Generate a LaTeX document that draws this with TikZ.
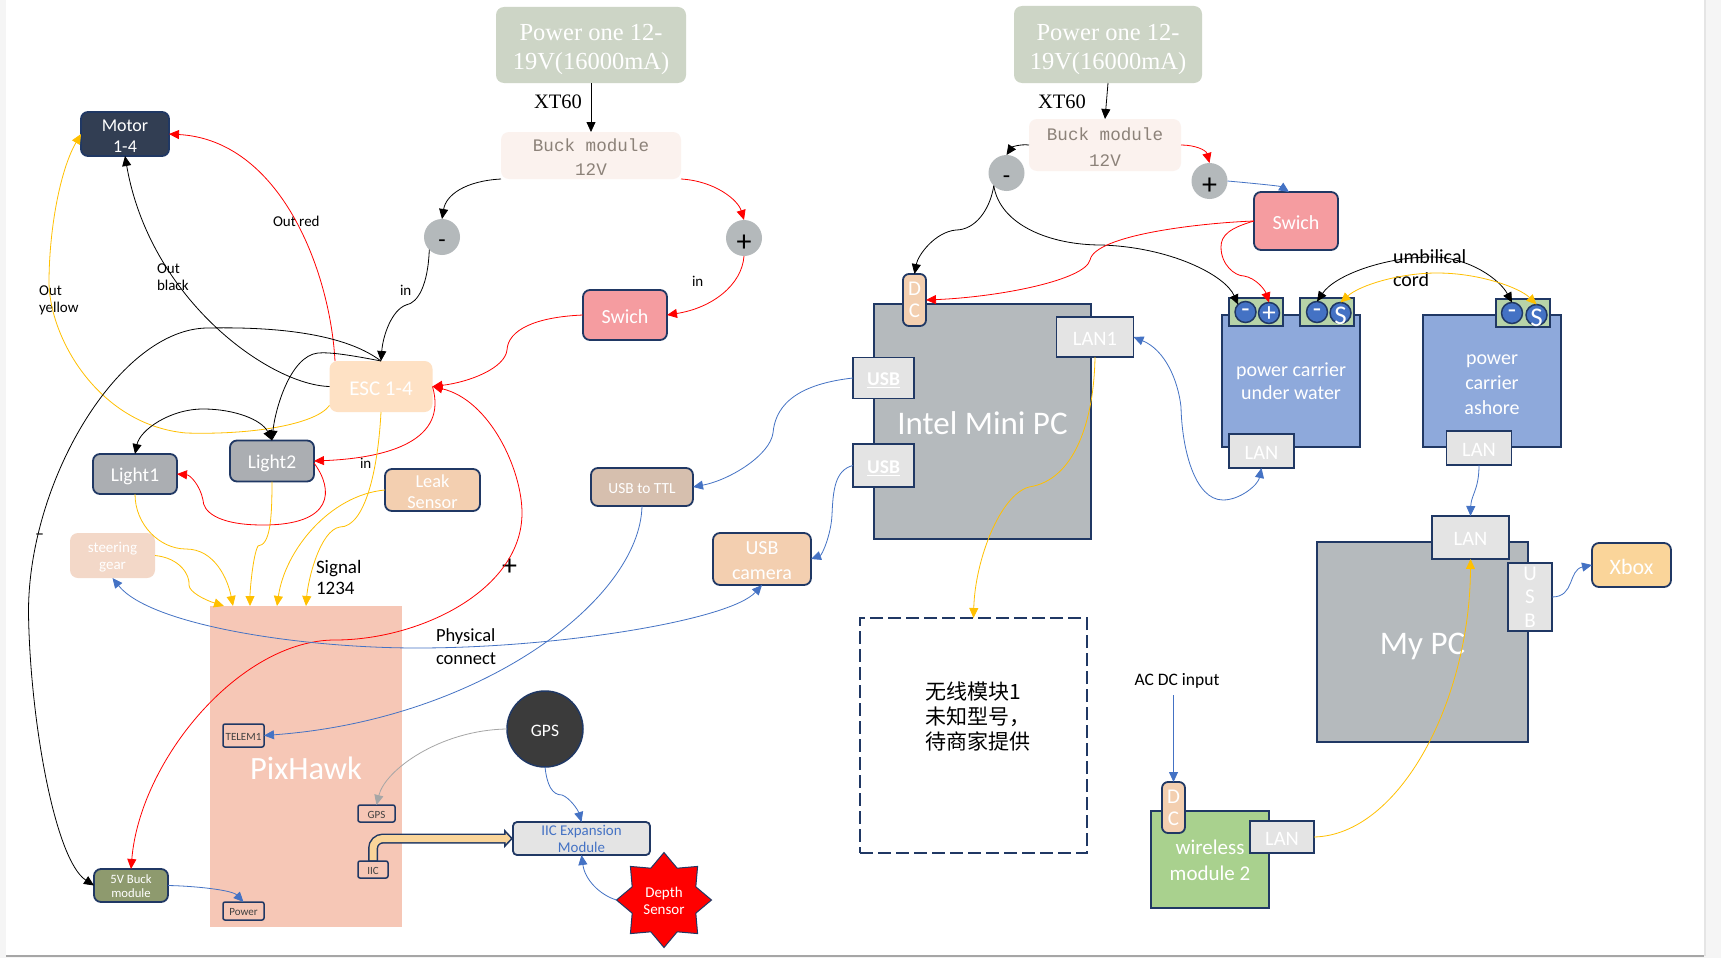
\documentclass[tikz,border=0pt]{standalone}
\usepackage{fontspec}
\usepackage{xcolor}
\usetikzlibrary{arrows.meta,shapes.geometric}
\setmainfont{Carlito}
\newfontfamily\serifface{Liberation Serif}
\newfontfamily\monoface{Liberation Mono}
\newfontfamily\cjk{Noto Sans CJK SC}

\definecolor{navy}{HTML}{203864}
\definecolor{powergreen}{HTML}{CDD5C6}
\definecolor{buckpink}{HTML}{FBF2EE}
\definecolor{buckgray}{HTML}{8C8279}
\definecolor{knobgray}{HTML}{B4B9BB}
\definecolor{pcgray}{HTML}{B5BABD}
\definecolor{swichred}{HTML}{F59CA0}
\definecolor{motornavy}{HTML}{323E53}
\definecolor{escpeach}{HTML}{FEE1C4}
\definecolor{lightgray}{HTML}{ABAEB2}
\definecolor{sandpeach}{HTML}{F3CFB0}
\definecolor{gearpeach}{HTML}{F3D8C8}
\definecolor{ttlbrown}{HTML}{D6BFAE}
\definecolor{pixpink}{HTML}{F6C7B6}
\definecolor{lanwhite}{HTML}{E4E4E4}
\definecolor{buckolive}{HTML}{8E9A6E}
\definecolor{carrierblue}{HTML}{8EA9DB}
\definecolor{clampgreen}{HTML}{B7D3A8}
\definecolor{linkblue}{HTML}{4472C4}
\definecolor{linkyellow}{HTML}{FFC000}
\definecolor{xboxorange}{HTML}{FAD59A}
\definecolor{wirelessgreen}{HTML}{A9D18E}
\definecolor{gpsblack}{HTML}{3B3B3B}
\definecolor{pagegray}{HTML}{F5F5F5}

\newcommand{\fs}[2]{\fontsize{#1}{#2}\selectfont}
\newcommand{\lift}[1]{\rule{0pt}{#1em}}
\newcommand{\pinmark}[2]{\makebox[0pt]{\smash{\raisebox{#1em}{#2}}}}

\tikzset{
  wh/.style 2 args={minimum width=#1pt,minimum height=#2pt},
  base/.style={inner sep=0pt,outer sep=0pt,align=center,text=white},
  plain/.style={base,execute at begin node={\lift{.9}}},
  flat/.style={plain,rounded corners=8pt},
  rbox/.style={plain,rounded corners=7pt,draw=navy,line width=1.8pt},
  sbase/.style={base,draw=navy,line width=1.8pt},
  sbox/.style={sbase,execute at begin node={\lift{.9}}},
  lanbox/.style={sbase,fill=lanwhite,font=\fs{20.5}{24},execute at begin node={\lift{.8}}},
  port/.style={plain,rounded corners=2pt,draw=navy,line width=1.5pt,fill=pixpink,text=black!75,font=\fs{11}{13}},
  knob/.style={plain,circle,minimum size=36pt,fill=knobgray,text=black,font=\fs{30}{30}},
  clamp/.style={sbase,fill=clampgreen},
  pin/.style={base,circle,minimum size=21pt,draw=navy,line width=1.5pt,fill=linkblue,font=\fs{27}{27}},
  note/.style={inner sep=0pt,outer sep=0pt,align=left,anchor=west,font=\fs{15}{17}},
  tip/.style={-{Triangle[length=10pt,width=9pt]}},
  twotip/.style={{Triangle[length=10pt,width=9pt]}-{Triangle[length=10pt,width=9pt]}},
  link/.style={line width=0.8pt},
  blackline/.style={link,black},
  redline/.style={link,red},
  yellowline/.style={link,linkyellow},
  blueline/.style={link,linkblue},
  grayline/.style={link,black!35}
}

\begin{document}
\begin{tikzpicture}[x=1pt,y=-1pt]
  \useasboundingbox (0,0) rectangle (1721,958);
  % page
  \fill[pagegray] (0,0) rectangle (1721,958);
  \fill[black!35] (6,954) rectangle (1704,957);
  \fill[black!10] (1704,0) rectangle (1706,956);
  \fill[white] (6,0) rectangle (1704,955);

  % left power branch
  \node[flat,wh={190}{76},fill=powergreen,font=\serifface\fs{24.5}{29}] (powerA) at (591,45) {\lift{1.05}Power one 12-\\19V(16000mA)};
  \node[inner sep=0pt,font=\serifface\fs{20.5}{24}] (xtA) at (558,102) {XT60};
  \node[flat,wh={180}{47},fill=buckpink,text=buckgray,font=\monoface\fs{17.6}{24}] (buckA) at (591,155.5) {\lift{.95}Buck module\\12V};
  \node[knob,font=\fs{24}{24}] (minusA) at (442,237) {-};
  \node[knob] (plusA) at (744,238) {+};
  \node[rbox,wh={84}{50},fill=swichred,font=\fs{20}{24}] (swichA) at (625,315) {Swich};
  \node[flat,wh={103}{51},fill=escpeach,font=\fs{21}{25}] (esc) at (381,386.5) {ESC 1-4};
  \node[rbox,wh={88}{44},fill=motornavy,font=\fs{18}{21}] (motor) at (125,134) {\lift{.9}Motor\\1-4};
  \node[rbox,wh={84}{41},fill=lightgray,font=\fs{19.5}{23}] (lightB) at (272,461) {Light2};
  \node[rbox,wh={84}{40},fill=lightgray,font=\fs{19.5}{23}] (lightA) at (135,474) {Light1};
  \node[rbox,wh={95}{42},fill=sandpeach,font=\fs{18.3}{21}] (leak) at (432.5,490) {\lift{.9}Leak\\Sensor};
  \node[flat,wh={85}{45},fill=gearpeach,font=\fs{15}{17}] (gear) at (112.5,555.5) {\lift{.97}steering\\gear};
  \node[rbox,wh={102}{38},fill=ttlbrown,font=\fs{15.4}{18}] (ttl) at (642,487) {USB to TTL};
  \node[rbox,wh={98}{52},fill=sandpeach,font=\fs{20}{25}] (camera) at (762,559) {\lift{.85}USB\\camera};

  % pixhawk
  \node[base,wh={192}{321},fill=pixpink,font=\fs{32.5}{36},execute at begin node={\lift{.78}}] (pix) at (306,766.5) {PixHawk};
  \node[port,wh={41}{23}] (telem) at (243.5,735.5) {TELEM1};
  \node[port,wh={37}{17}] (gpsport) at (376.5,813.5) {GPS};
  \node[port,wh={30}{17}] (iic) at (373,869.5) {IIC};
  \node[port,wh={41}{18}] (powerport) at (243.5,911) {Power};
  \node[plain,circle,minimum size=76pt,draw=navy,line width=1.5pt,fill=gpsblack,font=\fs{17.5}{20}] (gps) at (545,729) {GPS};
  \node[plain,rounded corners=4pt,draw=navy,line width=1.8pt,wh={137}{33},fill=lanwhite,text=linkblue,font=\fs{14.9}{17}] (expansion) at (581.5,838.5) {IIC Expansion\\Module};
  \node[plain,star,star points=8,star point ratio=1.38,minimum size=95pt,draw=navy,line width=1pt,fill=red,font=\fs{15}{17}] (depth) at (664,900) {\lift{.83}Depth\\Sensor};
  \node[rbox,wh={74}{33},fill=buckolive,font=\fs{12.7}{14}] (buckfive) at (131,885.5) {\lift{.86}5V Buck\\module};

  % left labels
  \node[note] (inA) at (400,290) {in};
  \node[note] (inB) at (692,281) {in};
  \node[note] (inC) at (360,463) {in};
  \node[note] (outblack) at (157,277.5) {Out\\black};
  \node[note] (outred) at (273,221) {Out red};
  \node[note] (outyellow) at (39,300.5) {Out\\yellow};
  \node[note,font=\fs{19}{21}] (signal) at (316,577.5) {Signal\\1234};
  \node[note,font=\fs{18.5}{23}] (physical) at (436,647) {Physical\\connect};
  \node[note,font=\fs{18}{18}] (minusmark) at (35,537) {–};
  \node[note,font=\fs{30}{30}] (plusmark) at (502,567) {+};

  % right power branch
  \node[flat,wh={188}{77},fill=powergreen,font=\serifface\fs{24.5}{29}] (powerB) at (1108,44.5) {\lift{1.05}Power one 12-\\19V(16000mA)};
  \node[inner sep=0pt,font=\serifface\fs{20.5}{24}] (xtB) at (1062,102) {XT60};
  \node[flat,wh={152}{52},fill=buckpink,text=buckgray,font=\monoface\fs{17.6}{26}] (buckB) at (1105,145) {\lift{.95}Buck module\\12V};
  \node[knob,font=\fs{24}{24}] (minusB) at (1006.5,173) {-};
  \node[knob] (plusB) at (1209.5,181) {+};
  \node[rbox,wh={84}{58},fill=swichred,font=\fs{20}{24}] (swichB) at (1296,221) {Swich};

  % mini pc
  \node[sbase,wh={217}{235},fill=pcgray,font=\fs{33}{36},execute at begin node={\lift{.78}}] (intel) at (982.5,421.5) {Intel Mini PC};
  \node[plain,rounded corners=6pt,draw=navy,line width=1.8pt,wh={23}{52},fill=sandpeach,font=\fs{21}{22}] (dcA) at (914.5,300) {D\\C};
  \node[lanbox,wh={77}{40}] (lanone) at (1095,337) {LAN1};
  \node[sbox,wh={61}{41},fill=lanwhite,font=\bfseries\fs{19.5}{20}] (usbA) at (883.5,378) {\underline{USB}};
  \node[sbox,wh={61}{43},fill=lanwhite,font=\bfseries\fs{19.5}{20}] (usbB) at (883.5,465.5) {\underline{USB}};
  \node[sbase,dashed,dash pattern=on 13pt off 5pt,wh={227}{235},text=black] (wirelessA) at (973.5,735.5) {};
  \node[inner sep=0pt,align=left,anchor=north west,font=\cjk\fs{21}{25}] (wirelesstext) at (925,682) {无线模块1\\未知型号，\\待商家提供};

  % carriers
  \node[sbox,wh={138}{132},fill=carrierblue,font=\fs{20}{23}] (carrierA) at (1291,381) {power carrier\\under water};
  \node[sbox,wh={138}{132},fill=carrierblue,font=\fs{20}{25}] (carrierB) at (1492,381) {\lift{.88}power\\carrier\\ashore};
  \node[lanbox,wh={65}{34}] (lanA) at (1261.5,451) {LAN};
  \node[lanbox,wh={65}{34}] (lanB) at (1479,448) {LAN};
  \node[clamp,wh={54}{28}] (clampA) at (1256,312) {};
  \node[clamp,wh={54}{28}] (clampB) at (1327,312) {};
  \node[clamp,wh={54}{28}] (clampC) at (1523,313) {};
  \node[pin] (negA) at (1245.5,312) {\pinmark{-.2}{-}};
  \node[pin] (posA) at (1269,313) {\pinmark{-.3}{+}};
  \node[pin] (negB) at (1317,312) {\pinmark{-.2}{-}};
  \node[pin] (sigB) at (1340.5,313) {\pinmark{-.42}{S}};
  \node[pin] (negC) at (1512,313) {\pinmark{-.2}{-}};
  \node[pin] (sigC) at (1536.5,315) {\pinmark{-.42}{S}};
  \node[note,font=\fs{20}{23}] (umbilical) at (1393,268.5) {umbilical\\cord};

  % my pc
  \node[sbox,wh={211}{200},fill=pcgray,font=\fs{33}{36}] (mypc) at (1422.5,642) {My PC};
  \node[lanbox,wh={77}{43}] (lanC) at (1470.5,537.5) {LAN};
  \node[sbox,wh={44}{68},fill=lanwhite,font=\fs{21}{23.5}] (usbC) at (1530,597) {U\\S\\B};
  \node[rbox,wh={79}{44},fill=xboxorange,font=\fs{22}{26}] (xbox) at (1631.5,565) {Xbox};

  % wireless module 2
  \node[sbox,wh={118}{97},fill=wirelessgreen,font=\fs{21}{26}] (wirelessB) at (1210,859.5) {\lift{.8}wireless\\module 2};
  \node[plain,rounded corners=6pt,draw=navy,line width=1.8pt,wh={23}{51},fill=sandpeach,font=\fs{21}{22}] (dcB) at (1173.5,807.5) {D\\C};
  \node[lanbox,wh={64}{32}] (lanD) at (1282,837) {LAN};
  \node[inner sep=0pt,font=\fs{17.5}{20}] (acdc) at (1177,681) {AC DC input};
  \coordinate (acin) at (1173.5,695);

  % left connectors
  \draw[blackline,tip] (powerA.south) -- (buckA.north);
  \draw[blackline,tip] (buckA.south west) .. controls (465,181) and (446,195) .. (minusA.north);
  \draw[redline,tip] (buckA.south east) .. controls (715,181) and (738,200) .. (plusA.north);
  \draw[blackline,tip] (minusA.south west) .. controls (428,285) and (418,303) .. (406,305) .. controls (392,310) and (383,335) .. (esc.north);
  \draw[redline,tip] (plusA.south) .. controls (742,285) and (712,308) .. (swichA.east);
  \draw[redline,tip] (swichA.west) .. controls (535,317) and (508,330) .. (507,350) .. controls (505,368) and (470,382) .. (esc.east);
  \draw[blackline,tip] (esc.west) .. controls (270,385) and (150,300) .. (motor.south);
  \draw[redline,tip] ([xshift=-46pt]esc.north) .. controls (330,270) and (280,140) .. (motor.east);
  \draw[yellowline,tip] ([yshift=-19pt]esc.west) .. controls (315,425) and (250,435) .. (186,433) .. controls (100,425) and (50,340) .. (49,283) .. controls (49,230) and (60,170) .. (motor.west);
  \draw[blackline,tip] (esc.north) .. controls (340,330) and (260,327) .. (208,328) .. controls (120,328) and (28,480) .. (28.5,613) .. controls (30,720) and (55,860) .. (buckfive.west);
  \draw[blackline,tip] (esc.north) .. controls (350,355) and (330,352) .. (318,353) .. controls (290,356) and (275,410) .. (lightB.north);
  \draw[blackline,twotip] (lightB.north) .. controls (262,420) and (235,409) .. (203,409) .. controls (170,409) and (140,430) .. (lightA.north);
  \draw[redline,tip] (esc.east) .. controls (448,440) and (390,458) .. (lightB.east);
  \draw[redline,tip] ([yshift=-2pt]lightB.east) .. controls (334,490) and (334,525) .. (263,525) .. controls (215,525) and (203,510) .. (203,500) .. controls (200,485) and (190,475) .. (lightA.east);
  \draw[redline,twotip] (esc.east) .. controls (490,400) and (522,470) .. (522,513) .. controls (522,590) and (420,640) .. (335,640) .. controls (240,640) and (140,760) .. (buckfive.north);

  % signal lines into the pixhawk
  \draw[yellowline,tip] (lightA.south) .. controls (135,525) and (160,549) .. (186,549) .. controls (215,549) and (228,580) .. ([xshift=23pt]pix.north west);
  \draw[yellowline,tip] (gear.east) .. controls (180,558) and (190,575) .. (189,585) .. controls (189,592) and (205,600) .. ([xshift=14pt]pix.north west);
  \draw[yellowline,tip] (lightB.south) .. controls (272,520) and (270,545) .. (258,546) .. controls (253,555) and (250,590) .. ([xshift=40pt]pix.north west);
  \draw[yellowline,tip] (leak.west) .. controls (330,495) and (285,550) .. ([xshift=67pt]pix.north west);
  \draw[yellowline,tip] (esc.south) .. controls (378,470) and (365,527) .. (340,527) .. controls (320,530) and (308,580) .. (pix.north);

  \draw[blueline,twotip] (gear.south) .. controls (150,625) and (300,648) .. (417,648) .. controls (560,648) and (730,620) .. (camera.south);
  \draw[blueline,tip] (ttl.south) .. controls (640,600) and (480,720) .. (telem.east);
  \draw[grayline,tip] (gps.west) .. controls (440,730) and (385,770) .. (gpsport.north);
  \draw[blueline,tip] (gps.south) .. controls (547,785) and (552,795) .. (562,795) .. controls (570,798) and (578,810) .. (expansion.north);
  \draw[blueline,tip] (depth.west) .. controls (600,895) and (585,880) .. (expansion.south);
  \draw[blueline,tip] (buckfive.east) .. controls (195,886) and (232,890) .. (powerport.north);
  % thick iic bus
  \draw[navy,line width=10pt,rounded corners=10pt,-{Triangle[length=9pt,width=19pt,fill=xboxorange,line width=1.5pt]}] (iic.north) |- (expansion.west);
  \draw[xboxorange,line width=7pt,rounded corners=10pt,shorten >=7pt,shorten <=1pt] (iic.north) |- (expansion.west);

  % right connectors
  \draw[blackline,tip] (powerB.south) -- (buckB.north);
  \draw[blackline,tip] (buckB.west) .. controls (1020,144) and (1012,147) .. (minusB.north);
  \draw[redline,tip] (buckB.east) .. controls (1195,145) and (1206,150) .. (plusB.north);
  \draw[blueline,tip] (plusB.east) .. controls (1250,183) and (1280,186) .. ([xshift=-7pt]swichB.north);
  \draw[blackline,tip] (minusB.south west) .. controls (990,210) and (975,230) .. (956,230) .. controls (935,232) and (918,255) .. (dcA.north);
  \draw[blackline,tip] (minusB.south west) .. controls (1000,225) and (1050,245) .. (1101,245) .. controls (1170,247) and (1225,275) .. (negA.north west);
  \draw[redline,tip] (swichB.west) .. controls (1200,223) and (1095,235) .. (1090,260) .. controls (1085,280) and (1000,297) .. (dcA.east);
  \draw[redline,tip] (swichB.west) .. controls (1230,228) and (1221,235) .. (1221,247) .. controls (1221,265) and (1235,276) .. (1244,276) .. controls (1256,278) and (1265,290) .. (posA.north);
  \draw[blackline,twotip] (negB.north) .. controls (1335,275) and (1385,257) .. (1431,257) .. controls (1470,257) and (1500,280) .. (negC.north);
  \draw[yellowline,twotip] (sigB.north) .. controls (1360,285) and (1400,273) .. (1437,273) .. controls (1480,273) and (1520,288) .. (sigC.north);
  \draw[blueline,twotip] (lanone.east) .. controls (1165,350) and (1178,380) .. (1181,407) .. controls (1182,450) and (1195,500) .. (1223,500) .. controls (1240,500) and (1258,485) .. (lanA.south);
  \draw[blueline,tip] (lanB.south) .. controls (1479,490) and (1471,495) .. (lanC.north);
  \draw[yellowline,tip] (lanone.south) .. controls (1094,420) and (1075,480) .. (1029,487) .. controls (1000,495) and (975,560) .. (wirelessA.north);
  \draw[yellowline,tip] (lanD.east) .. controls (1400,835) and (1470,700) .. (lanC.south);
  \draw[blueline,tip] (usbC.east) .. controls (1575,597) and (1568,570) .. (xbox.west);
  \draw[blueline,tip] (usbA.west) .. controls (790,385) and (775,410) .. (773,433) .. controls (770,455) and (730,480) .. (ttl.east);
  \draw[blueline,tip] (usbB.west) .. controls (835,470) and (833,490) .. (832,515) .. controls (831,535) and (822,555) .. (camera.east);
  \draw[blueline,tip] (acin) -- (dcB.north);
\end{tikzpicture}
\end{document}
